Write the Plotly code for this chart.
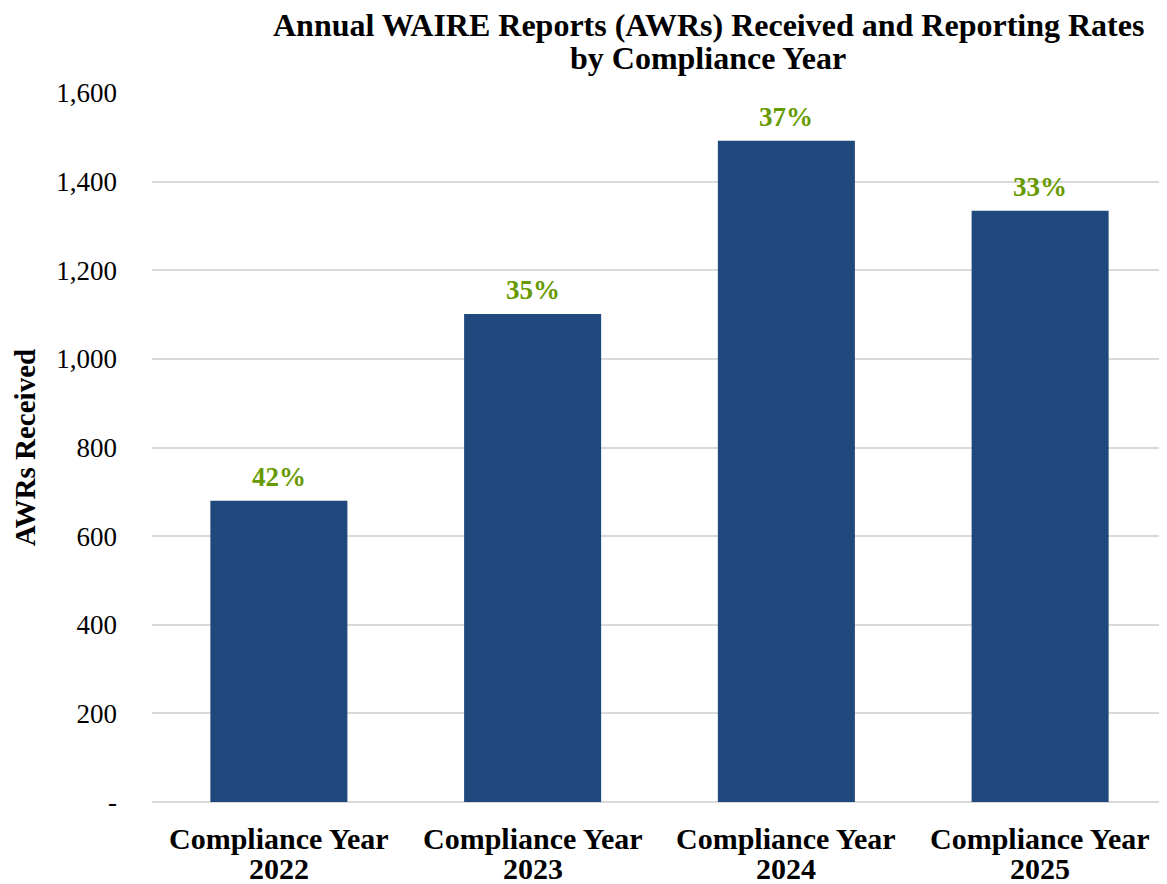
import plotly.graph_objects as go

categories = ["Compliance Year 2022", "Compliance Year 2023", "Compliance Year 2024", "Compliance Year 2025"]
category_line1 = ["Compliance Year", "Compliance Year", "Compliance Year", "Compliance Year"]
category_line2 = ["2022", "2023", "2024", "2025"]
awrs_received = [680, 1101, 1492, 1334]
reporting_rates = ["42%", "35%", "37%", "33%"]
y_tick_values = [0, 200, 400, 600, 800, 1000, 1200, 1400, 1600]
y_tick_labels = ["-", "200", "400", "600", "800", "1,000", "1,200", "1,400", "1,600"]
title_lines = ["Annual WAIRE Reports (AWRs) Received and Reporting Rates", "by Compliance Year"]

font_family = "Liberation Serif, Times New Roman, serif"

fig = go.Figure()
fig.add_trace(go.Bar(
    x=categories,
    y=awrs_received,
    marker=dict(color="#1F497D", line=dict(width=0)),
    width=0.54,
))

for cat, val, rate in zip(categories, awrs_received, reporting_rates):
    fig.add_annotation(
        x=cat, y=val, text="<b>" + rate + "</b>",
        showarrow=False, yanchor="bottom", yshift=7,
        font=dict(family=font_family, size=27, color="#669A00"),
    )

# category labels as two tightly spaced lines
for cat, l1, l2 in zip(categories, category_line1, category_line2):
    for txt, ypos in ((l1, -0.0508), (l2, -0.0931)):
        fig.add_annotation(
            x=cat, y=ypos, xref="x", yref="paper",
            xanchor="center", yanchor="middle",
            text="<b>" + txt + "</b>", showarrow=False,
            font=dict(family=font_family, size=30, color="black"),
        )

# title drawn as two lines with tight spacing
for line, ypos in zip(title_lines, [1.0959, 1.0494]):
    fig.add_annotation(
        x=0.548, y=ypos, xref="paper", yref="paper",
        xanchor="center", yanchor="middle",
        text="<b>" + line + "</b>", showarrow=False,
        font=dict(family=font_family, size=32, color="black"),
    )

# page body has an 8px margin, so the figure is sized to fit the window
fig.update_layout(
    width=1159, height=876,
    margin=dict(l=144, r=0, t=85, b=82),
    paper_bgcolor="white", plot_bgcolor="white",
    showlegend=False,
    font=dict(family=font_family, color="black"),
)

fig.update_xaxes(
    showticklabels=False,
    showgrid=False, showline=False, ticks="",
    automargin=False,
)
fig.update_yaxes(
    range=[0, 1600],
    tickvals=y_tick_values,
    ticktext=y_tick_labels,
    tickfont=dict(family=font_family, size=27, color="black"),
    showgrid=True, gridcolor="#D9D9D9", gridwidth=1.5,
    zeroline=True, zerolinecolor="#D9D9D9", zerolinewidth=2,
    ticks="", ticklabelstandoff=34, automargin=False,
    title=dict(text="<b>AWRs Received</b>", font=dict(family=font_family, size=29, color="black"), standoff=12),
)

fig.write_html("out.html")
